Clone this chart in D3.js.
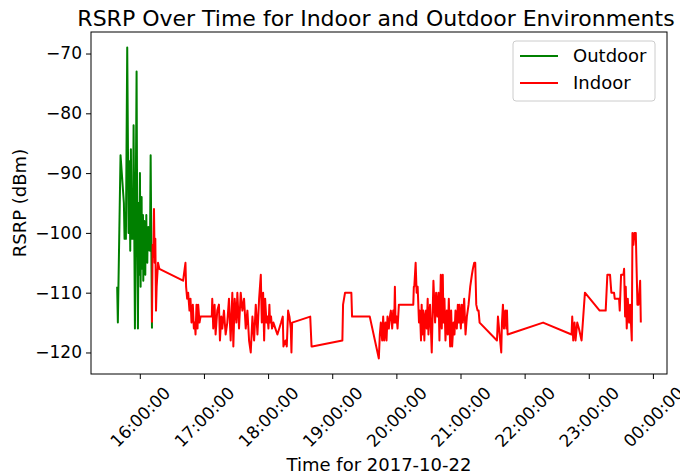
<!DOCTYPE html>
<html>
<head>
<meta charset="utf-8">
<script src="https://cdn.jsdelivr.net/npm/d3@7"></script>
<style>
  body { margin: 0; background: #fff; }
  text { font-family: "DejaVu Sans", sans-serif; }
</style>
</head>
<body>
<div id="graph"></div>
<script>
// measurement day and series data (times are HH:MM:SS on that day)
var dateLabel = '2017-10-22';

var outdoorTimes = ['15:38:50','15:39:28','15:41:58','15:45:06','15:45:44','15:46:21','15:46:59','15:48:14','15:49:29','15:50:25',
  '15:51:03','15:51:40','15:52:18','15:52:56','15:53:33','15:54:11','15:54:48','15:55:26','15:56:04','15:56:59',
  '15:57:37','15:58:15','15:58:52','15:59:30','16:00:07','16:00:45','16:01:04','16:01:23','16:01:42','16:02:00',
  '16:02:19','16:02:38','16:02:57','16:03:15','16:03:34','16:03:53','16:04:12','16:04:31','16:04:50','16:05:08',
  '16:05:27','16:05:46','16:06:05','16:06:23','16:06:42','16:07:01','16:07:20','16:07:38','16:08:00','16:08:35',
  '16:09:00','16:09:31','16:10:08','16:11:23'];
var outdoorRsrp = [-109,-115,-87,-95,-101,-97,-101,-69,-100,-88,
  -103,-86,-101,-94,-101,-82,-99,-116,-98,-73,
  -101,-116,-95,-107,-90,-109,-96,-104,-94,-106,
  -99,-104,-97,-108,-100,-105,-98,-103,-100,-107,
  -99,-104,-97,-102,-99,-105,-100,-103,-99,-102,
  -100,-103,-87,-116];

var indoorTimes = ['16:11:23','16:12:00','16:12:38','16:13:16','16:13:54','16:14:31','16:15:09','16:15:46','16:17:02','16:18:17',
  '16:40:30','16:42:42','16:43:18','16:44:17','16:45:13','16:46:28','16:47:25','16:48:21','16:49:36','16:50:33',
  '16:51:29','16:52:07','16:53:03','16:54:00','16:54:37','16:55:52','16:56:49','17:07:20','17:07:46','17:08:42',
  '17:09:57','17:10:54','17:12:28','17:14:02','17:14:58','17:16:13','17:17:09','17:18:43','17:20:17','17:21:51',
  '17:23:25','17:24:59','17:26:33','17:27:30','17:28:45','17:30:19','17:31:15','17:32:49','17:34:23','17:35:57',
  '17:37:31','17:39:05','17:40:39','17:42:13','17:43:47','17:45:21','17:46:55','17:48:29','17:50:03','17:51:37',
  '17:53:11','17:54:07','17:55:22','17:56:18','17:57:14','17:58:29','17:59:25','18:00:21','18:01:13','18:01:50',
  '18:02:47','18:03:43','18:04:58','18:06:51','18:08:43','18:12:10','18:13:44','18:14:22','18:16:14','18:17:29',
  '18:18:44','18:19:59','18:21:14','18:21:51','18:22:29','18:39:25','18:40:40','18:41:18','19:09:30','19:10:08',
  '19:12:00','19:17:54','19:18:34','19:35:07','19:43:36','19:44:32','19:45:28','19:46:43','19:47:40','19:48:36',
  '19:49:51','19:50:47','19:51:43','19:52:58','19:53:55','19:54:51','19:56:06','19:57:03','19:57:59','19:58:37',
  '19:59:14','20:00:11','20:01:07','20:02:22','20:15:50','20:16:20','20:16:47','20:18:02','20:18:58','20:19:55',
  '20:21:10','20:22:06','20:23:03','20:23:40','20:24:18','20:25:14','20:26:11','20:26:48','20:27:44','20:28:22',
  '20:29:18','20:30:00','20:31:30','20:33:06','20:34:40','20:36:14','20:37:10','20:38:25','20:39:22','20:40:18',
  '20:41:33','20:42:29','20:43:26','20:44:03','20:45:00','20:45:56','20:47:11','20:48:07','20:49:04','20:50:19',
  '20:51:15','20:52:11','20:53:26','20:54:22','20:55:19','20:56:34','20:57:30','20:58:26','20:59:04','21:00:19',
  '21:01:15','21:02:11','21:03:27','21:04:42','21:05:58','21:07:32','21:09:06','21:10:40','21:11:36','21:12:51',
  '21:13:48','21:14:44','21:15:59','21:16:55','21:17:52','21:34:06','21:35:02','21:38:07','21:38:46','21:39:42',
  '21:40:38','21:41:54','21:42:50','21:43:28','21:44:05','22:17:16','22:43:54','22:44:31','22:45:27','22:46:42',
  '22:47:38','22:49:12','22:50:46','22:53:16','22:56:24','23:10:11','23:15:49','23:17:23','23:19:53','23:21:08',
  '23:23:38','23:24:16','23:28:20','23:28:58','23:30:13','23:32:25','23:33:03','23:33:59','23:34:36','23:35:32',
  '23:36:29','23:37:44','23:38:40','23:40:14','23:40:51','23:41:47','23:42:43','23:43:59','23:44:36','23:45:32',
  '23:46:29','23:48:03','23:48:41'];
var indoorRsrp = [-115,-102,-104,-96,-105,-101,-113,-109,-105,-106,
  -108,-105,-109,-111,-110,-113,-111,-115,-112,-116,
  -115,-117,-112,-116,-112,-115,-114,-114,-111,-116,
  -112,-117,-113,-112,-118,-114,-116,-113,-117,-115,
  -111,-118,-110,-119,-111,-115,-110,-116,-110,-113,
  -111,-116,-113,-118,-120,-114,-118,-112,-117,-111,
  -107,-115,-110,-118,-111,-115,-114,-116,-112,-115,
  -114,-116,-115,-116,-117,-115,-114,-119,-118,-119,
  -113,-114,-116,-120,-115,-114,-119,-119,-118,-112,
  -110,-110,-114,-114,-121,-117,-115,-118,-114,-118,
  -115,-118,-114,-116,-114,-113,-116,-113,-115,-109,
  -115,-114,-116,-112,-112,-109,-109,-105,-110,-109,
  -115,-113,-118,-112,-117,-113,-118,-114,-113,-116,
  -111,-117,-112,-120,-108,-115,-110,-114,-110,-118,
  -107,-116,-107,-115,-111,-118,-113,-117,-111,-119,
  -113,-119,-115,-117,-113,-116,-112,-115,-112,-116,
  -112,-115,-111,-117,-114,-112,-109,-107,-106,-105,
  -105,-112,-113,-113,-115,-118,-114,-120,-115,-112,
  -116,-113,-116,-113,-117,-115,-117,-114,-118,-115,
  -118,-115,-116,-118,-110,-113,-113,-107,-107,-110,
  -110,-111,-111,-113,-107,-107,-106,-114,-109,-116,
  -111,-115,-112,-118,-100,-102,-100,-100,-105,-112,
  -112,-108,-115];

var seriesNames = ['Outdoor', 'Indoor'];
var seriesColors = ['green', 'red'];
var yTicks = [-120, -110, -100, -90, -80, -70];
var titleText = 'RSRP Over Time for Indoor and Outdoor Environments';
var xLabel = 'Time for ' + dateLabel;
var yLabel = 'RSRP (dBm)';

// graph dimensions and margins
var margin = {top: 32, right: 13, bottom: 102, left: 91};
var width = 680 - margin.left - margin.right;
var height = 476 - margin.top - margin.bottom;

var parseTime = d3.timeParse('%Y-%m-%d %H:%M:%S');

function makeSeries(times, values) {
  return times.map(function(t, i) {
    return {date: parseTime(dateLabel + ' ' + t), value: values[i]};
  });
}
var series = [makeSeries(outdoorTimes, outdoorRsrp), makeSeries(indoorTimes, indoorRsrp)];
var allPoints = series[0].concat(series[1]);

// pad the data range by 5% on each side, like matplotlib does
var tExt = d3.extent(allPoints, function(d) { return d.date; });
var tPad = (tExt[1] - tExt[0]) * 0.05;
var vExt = d3.extent(allPoints, function(d) { return d.value; });
var vPad = (vExt[1] - vExt[0]) * 0.05;

var x = d3.scaleTime()
  .domain([new Date(+tExt[0] - tPad), new Date(+tExt[1] + tPad)])
  .range([0, width]);
var y = d3.scaleLinear()
  .domain([vExt[0] - vPad, vExt[1] + vPad])
  .range([height, 0]);

var line = d3.line()
  .x(function(d) { return x(d.date); })
  .y(function(d) { return y(d.value); });

var svg = d3.select('#graph')
  .append('svg')
  .attr('width', 680)
  .attr('height', 476)
  .style('display', 'block');

var g = svg.append('g')
  .attr('transform', 'translate(' + margin.left + ',' + margin.top + ')');

// lines
series.forEach(function(s, i) {
  g.append('path')
    .datum(s)
    .attr('fill', 'none')
    .attr('stroke', seriesColors[i])
    .attr('stroke-width', 2)
    .attr('stroke-linejoin', 'round')
    .attr('d', line);
});

// x axis
var xAxis = g.append('g')
  .attr('transform', 'translate(0,' + height + ')')
  .call(d3.axisBottom(x)
    .ticks(d3.timeHour.every(1))
    .tickFormat(d3.timeFormat('%H:%M:%S'))
    .tickSize(5)
    .tickSizeOuter(0));
xAxis.select('.domain').remove();
xAxis.selectAll('text')
  .attr('x', 0)
  .attr('y', 0)
  .attr('dy', '0.35em')
  .attr('text-anchor', 'middle')
  .attr('transform', 'translate(0,43) rotate(-45)')
  .style('font-size', '17px')
  .attr('fill', '#000');

// y axis
var yAxis = g.append('g')
  .call(d3.axisLeft(y)
    .tickValues(yTicks)
    .tickSize(5)
    .tickPadding(4)
    .tickSizeOuter(0));
yAxis.select('.domain').remove();
yAxis.selectAll('text')
  .style('font-size', '17px')
  .attr('fill', '#000');

// frame
g.append('rect')
  .attr('width', width)
  .attr('height', height)
  .attr('fill', 'none')
  .attr('stroke', '#000')
  .attr('stroke-width', 1);

// title and axis labels
svg.append('text')
  .attr('x', margin.left + width / 2 - 3)
  .attr('y', 26)
  .attr('text-anchor', 'middle')
  .style('font-size', '22px')
  .text(titleText);

svg.append('text')
  .attr('x', margin.left + width / 2)
  .attr('y', 471)
  .attr('text-anchor', 'middle')
  .style('font-size', '18px')
  .text(xLabel);

svg.append('text')
  .attr('transform', 'translate(26,' + (margin.top + height / 2) + ') rotate(-90)')
  .attr('text-anchor', 'middle')
  .style('font-size', '18px')
  .text(yLabel);

// legend
var legend = svg.append('g').attr('transform', 'translate(513,41)');
legend.append('rect')
  .attr('width', 142)
  .attr('height', 60)
  .attr('rx', 3)
  .attr('fill', '#fff')
  .attr('fill-opacity', 0.8)
  .attr('stroke', '#cccccc');
seriesNames.forEach(function(name, i) {
  var ly = 15 + i * 27;
  legend.append('line')
    .attr('x1', 7).attr('x2', 45)
    .attr('y1', ly).attr('y2', ly)
    .attr('stroke', seriesColors[i])
    .attr('stroke-width', 2);
  legend.append('text')
    .attr('x', 60)
    .attr('y', ly)
    .attr('dy', '0.35em')
    .style('font-size', '18px')
    .text(name);
});
</script>
</body>
</html>
